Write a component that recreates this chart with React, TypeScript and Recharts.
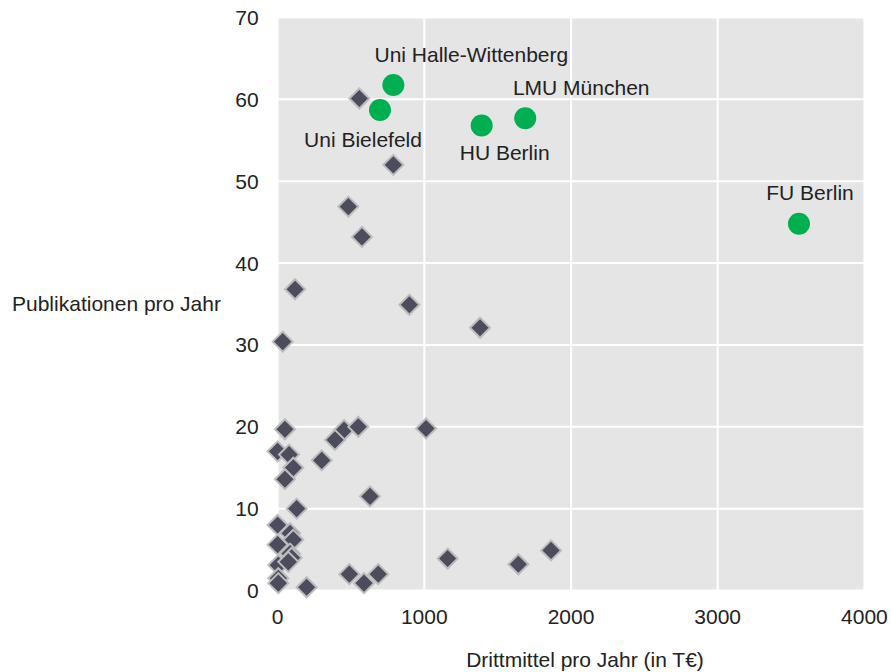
import { CartesianGrid, Label, Scatter, ScatterChart, XAxis, YAxis } from "recharts"

// Übrige Hochschulen: Drittmittel (T€) und Publikationen pro Jahr
const otherFunding = [
  557, 789, 482, 575, 119, 898, 35, 1380, 1012, 50, 453, 550, 391, 0, 78, 301, 107, 50, 630,
  130, 0, 85, 107, 0, 85, 96, 5, 73, 5, 5, 198, 489, 589, 686, 1159, 1641, 1864,
]
const otherPubs = [
  60.1, 52.0, 46.9, 43.2, 36.8, 34.9, 30.4, 32.1, 19.8, 19.7, 19.6, 20.0, 18.4, 17.0, 16.6, 15.9,
  15.0, 13.6, 11.5, 10.0, 8.0, 7.0, 6.2, 5.6, 4.5, 4.0, 3.1, 3.5, 1.5, 0.9, 0.4, 2.0, 0.9, 2.0,
  3.9, 3.2, 4.9,
]

// hervorgehobene Hochschulen
const highlightNames = ["Uni Halle-Wittenberg", "Uni Bielefeld", "HU Berlin", "LMU München", "FU Berlin"]
const highlightFunding = [789, 698, 1391, 1688, 3554]
const highlightPubs = [61.75, 58.7, 56.8, 57.7, 44.8]

const xTicks = [0, 1000, 2000, 3000, 4000]
const yTicks = [0, 10, 20, 30, 40, 50, 60, 70]

const otherData = otherFunding.map((x, i) => ({ x, y: otherPubs[i] }))
const highlightData = highlightNames.map((name, i) => ({
  name,
  x: highlightFunding[i],
  y: highlightPubs[i],
}))

// label placement relative to the point centre
const labelOffset: Record<string, [number, number]> = {
  "Uni Halle-Wittenberg": [78, -31],
  "Uni Bielefeld": [-17, 30],
  "HU Berlin": [23, 27],
  "LMU München": [56, -31],
  "FU Berlin": [11, -31],
}

const textColor = "#222"
const fontSize = 21

const Diamond = (props: any) => {
  const { cx, cy } = props
  const r = 10
  return (
    <polygon
      points={`${cx},${cy - r} ${cx + r},${cy} ${cx},${cy + r} ${cx - r},${cy}`}
      fill="#4b4d5d"
      stroke="#bcbcbc"
      strokeWidth={2}
    />
  )
}

const GreenDot = (props: any) => {
  const { cx, cy, payload } = props
  const [dx, dy] = labelOffset[payload.name] || [0, -30]
  return (
    <g>
      <circle cx={cx} cy={cy} r={11} fill="#00b050" />
      <text
        x={cx + dx}
        y={cy + dy}
        textAnchor="middle"
        dominantBaseline="central"
        fontSize={fontSize}
        fill={textColor}
      >
        {payload.name}
      </text>
    </g>
  )
}

export default function App() {
  return (
    <div
      style={{
        position: "absolute",
        left: 0,
        top: 0,
        width: 891,
        height: 672,
        background: "#fff",
        fontFamily: "'Liberation Sans', Arial, sans-serif",
      }}
    >
      <ScatterChart width={891} height={672} margin={{ top: 17.5, right: 26.6, bottom: 0, left: 0 }}>
        <CartesianGrid fill="#e5e5e5" stroke="#ffffff" strokeWidth={2} />
        <XAxis
          type="number"
          dataKey="x"
          domain={[0, 4000]}
          ticks={xTicks}
          height={81.5}
          axisLine={false}
          tickLine={false}
          tickSize={0}
          tickMargin={19}
          tick={{ fontSize, fill: textColor }}
        >
          <Label
            value="Drittmittel pro Jahr (in T€)"
            position="insideBottom"
            offset={5}
            dx={14}
            style={{ fontSize, fill: textColor }}
          />
        </XAxis>
        <YAxis
          type="number"
          dataKey="y"
          domain={[0, 70]}
          ticks={yTicks}
          width={277.6}
          axisLine={false}
          tickLine={false}
          tickSize={0}
          tickMargin={19}
          tick={{ fontSize, fill: textColor }}
        >
          <Label
            value="Publikationen pro Jahr"
            position="insideLeft"
            offset={12}
            style={{ fontSize, fill: textColor, textAnchor: "start" }}
          />
        </YAxis>
        <Scatter data={otherData} shape={<Diamond />} isAnimationActive={false} />
        <Scatter data={highlightData} shape={<GreenDot />} isAnimationActive={false} />
      </ScatterChart>
    </div>
  )
}
